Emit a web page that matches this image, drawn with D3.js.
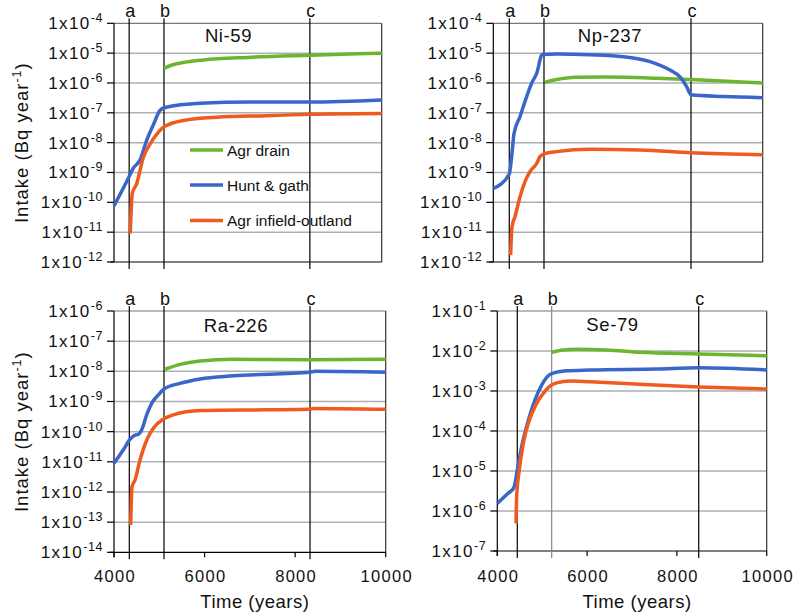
<!DOCTYPE html>
<html><head><meta charset="utf-8">
<script src="https://cdn.jsdelivr.net/npm/d3@7"></script>
<style>
html,body{margin:0;padding:0;background:#fff;}
svg{display:block;font-family:"Liberation Sans",Arial,Helvetica,sans-serif;}
</style></head>
<body><svg id="chart" width="794" height="614"></svg>
<script>
// ---------- DATA ----------
const seriesNames = ["Agr drain", "Hunt & gath", "Agr infield-outland"];
const markerNames = ["a", "b", "c"];
const xTickValues = [4000, 6000, 8000, 10000];

// Ni-59
const ni59Markers = [4340, 5120, 8390];
const ni59Drain = [[5121,3.1e-6],[5300,4.0e-6],[5600,5.0e-6],[6000,5.9e-6],[7000,7.2e-6],[8400,8.5e-6],[10000,1.0e-5]];
const ni59Hunt = [[4000,7.6e-11],[4321,6.4e-10],[4433,1.4e-9],[4583,2.6e-9],[4732,1.2e-8],[4881,3.9e-8],[5031,1.2e-7],[5143,1.5e-7],[5930,2.1e-7],[7050,2.3e-7],[8390,2.3e-7],[10000,2.7e-7]];
const ni59Infield = [[4365,9e-12],[4410,2e-10],[4508,4.2e-10],[4657,3.2e-9],[4807,9.0e-9],[4956,1.9e-8],[5121,3.4e-8],[5553,5.5e-8],[6301,7.1e-8],[7421,8.0e-8],[8393,8.9e-8],[10000,9.5e-8]];

// Np-237
const np237Markers = [4356, 5129, 8403];
const np237Drain = [[5151,1.05e-6],[5411,1.3e-6],[5826,1.55e-6],[6526,1.6e-6],[7639,1.45e-6],[8403,1.3e-6],[10000,1.0e-6]];
const np237Hunt = [[4000,2.9e-10],[4356,8.9e-10],[4409,3.4e-9],[4461,2.0e-8],[4594,7.4e-8],[4743,3.5e-7],[4854,9.8e-7],[4966,2.1e-6],[5090,9.0e-6],[5411,9.3e-6],[6154,8.8e-6],[6896,7.6e-6],[7490,5.2e-6],[7935,2.7e-6],[8158,1.6e-6],[8307,7.5e-7],[8403,4.0e-7],[9122,3.5e-7],[10000,3.2e-7]];
const np237Infield = [[4387,1.7e-12],[4416,1.5e-11],[4483,3.3e-11],[4594,1.5e-10],[4706,4.9e-10],[4817,1.07e-9],[4966,2.0e-9],[5040,3.4e-9],[5129,4.2e-9],[5411,5.0e-9],[6154,6.0e-9],[7267,5.7e-9],[8403,4.6e-9],[10000,3.9e-9]];

// Ra-226
const ra226Markers = [4338, 5104, 8329];
const ra226Drain = [[5126,1.17e-8],[5458,1.7e-8],[5899,2.2e-8],[6635,2.5e-8],[8329,2.4e-8],[10000,2.5e-8]];
const ra226Hunt = [[4000,8.9e-12],[4206,2.5e-11],[4338,5.2e-11],[4464,7.7e-11],[4537,8.1e-11],[4611,1.15e-10],[4721,3.6e-10],[4832,8.7e-10],[4979,1.65e-9],[5104,2.6e-9],[5458,4.0e-9],[5899,5.6e-9],[6635,7.1e-9],[8329,9.3e-9],[8439,1.0e-8],[10000,9.3e-9]];
const ra226Infield = [[4368,8.1e-14],[4398,1.5e-12],[4464,2.5e-12],[4574,1.15e-11],[4721,5.2e-11],[4868,1.3e-10],[5089,2.6e-10],[5310,3.6e-10],[5899,5.0e-10],[7372,5.3e-10],[8329,5.5e-10],[8402,5.9e-10],[10000,5.5e-10]];

// Se-79
const se79Markers = [4445, 5211, 8486];
const se79Drain = [[5211,9.3e-3],[5470,1.06e-2],[5768,1.1e-2],[6436,1.06e-2],[7178,9.3e-3],[8486,8.4e-3],[10000,7.6e-3]];
const se79Hunt = [[4000,1.55e-6],[4245,2.8e-6],[4372,3.9e-6],[4445,1.05e-5],[4543,4.1e-5],[4654,1.3e-4],[4840,6.0e-4],[4988,1.4e-3],[5100,2.2e-3],[5211,2.7e-3],[5544,3.2e-3],[6065,3.35e-3],[7550,3.55e-3],[8486,3.8e-3],[10000,3.35e-3]];
const se79Infield = [[4417,4.9e-7],[4431,2.3e-6],[4490,1.06e-5],[4579,4.9e-5],[4690,1.55e-4],[4876,4.9e-4],[5024,8.7e-4],[5173,1.33e-3],[5322,1.6e-3],[5619,1.78e-3],[6065,1.7e-3],[7178,1.47e-3],[8486,1.26e-3],[10000,1.12e-3]];

// ---------- LAYOUT ----------
const colors = ["#6cb52f", "#3b66c9", "#ef5b1f"];
const panels = [
  {title:"Ni-59", series:[ni59Drain, ni59Hunt, ni59Infield], markers:ni59Markers, yDomain:[1e-12,1e-4],
   l:114, r:381.7, t:23.3, b:262, bottomAxis:false, yLabel:true, legend:true, titleX:228.5, titleY:42, bGray:false},
  {title:"Np-237", series:[np237Drain, np237Hunt, np237Infield], markers:np237Markers, yDomain:[1e-12,1e-4],
   l:493.3, r:762.7, t:23.3, b:262, bottomAxis:false, yLabel:false, legend:false, titleX:610, titleY:42, bGray:false},
  {title:"Ra-226", series:[ra226Drain, ra226Hunt, ra226Infield], markers:ra226Markers, yDomain:[1e-14,1e-6],
   l:114, r:385.7, t:311, b:552.3, bottomAxis:true, yLabel:true, legend:false, titleX:236, titleY:332, bGray:false},
  {title:"Se-79", series:[se79Drain, se79Hunt, se79Infield], markers:se79Markers, yDomain:[1e-7,1e-1],
   l:497.3, r:766.7, t:311, b:551, bottomAxis:true, yLabel:false, legend:false, titleX:612.5, titleY:331, bGray:true}
];

const svg = d3.select("#chart");
const gridColor = "#a9b1b3";

panels.forEach(p => {
  const g = svg.append("g");
  const x = d3.scaleLinear().domain([4000,10000]).range([p.l, p.r]);
  const y = d3.scaleLog().domain(p.yDomain).range([p.b, p.t]);
  const lo = Math.round(Math.log10(p.yDomain[0])), hi = Math.round(Math.log10(p.yDomain[1]));
  const exps = d3.range(lo, hi + 1);

  // horizontal gridlines
  g.selectAll(".grid").data(exps.slice(1, -1)).join("line")
    .attr("x1", p.l).attr("x2", p.r)
    .attr("y1", e => y(Math.pow(10, e))).attr("y2", e => y(Math.pow(10, e)))
    .attr("stroke", gridColor).attr("stroke-width", 1.5);

  // frame top/right
  g.append("line").attr("x1", p.l).attr("x2", p.r).attr("y1", p.t).attr("y2", p.t)
    .attr("stroke", "#777").attr("stroke-width", 1.2);
  g.append("line").attr("x1", p.r).attr("x2", p.r).attr("y1", p.t).attr("y2", p.b)
    .attr("stroke", "#333").attr("stroke-width", 1.2);

  // y ticks and labels
  g.selectAll(".ytick").data(exps).join("line")
    .attr("x1", p.l - 7).attr("x2", p.l)
    .attr("y1", e => y(Math.pow(10, e))).attr("y2", e => y(Math.pow(10, e)))
    .attr("stroke", "#000").attr("stroke-width", 1.2);
  const yl = g.selectAll(".ylab").data(exps).join("text")
    .attr("x", p.l - 11).attr("y", e => y(Math.pow(10, e)) + 6)
    .attr("text-anchor", "end").attr("font-size", 17).attr("letter-spacing", 1.4).attr("fill", "#111");
  yl.append("tspan").text("1x10");
  yl.append("tspan").attr("dy", -7).attr("font-size", 12.5).attr("letter-spacing", 0.6).text(e => String(e));

  // left axis & bottom axis lines
  g.append("line").attr("x1", p.l).attr("x2", p.l).attr("y1", p.t).attr("y2", p.b + (p.bottomAxis ? 5 : 0))
    .attr("stroke", "#000").attr("stroke-width", 1.2);
  g.append("line").attr("x1", p.l - 4).attr("x2", p.r).attr("y1", p.b).attr("y2", p.b)
    .attr("stroke", "#000").attr("stroke-width", 1.2);

  if (p.bottomAxis) {
    g.selectAll(".xtick").data(xTickValues).join("line")
      .attr("x1", d => x(d)).attr("x2", d => x(d)).attr("y1", p.b).attr("y2", p.b + 5)
      .attr("stroke", "#000").attr("stroke-width", 1.2);
    g.selectAll(".xlab").data(xTickValues).join("text")
      .attr("x", d => x(d) + 1).attr("y", 582).attr("text-anchor", "middle")
      .attr("font-size", 16.5).attr("letter-spacing", 1.3).attr("fill", "#111").text(d => d);
    g.append("text").attr("x", (p.l + p.r) / 2 + 5).attr("y", 608).attr("text-anchor", "middle")
      .attr("font-size", 18.5).attr("letter-spacing", 0.5).attr("fill", "#111").text("Time (years)");
  }

  // marker vertical lines
  g.selectAll(".mk").data(p.markers).join("line")
    .attr("x1", d => x(d)).attr("x2", d => x(d)).attr("y1", p.t - 5).attr("y2", p.b + 7)
    .attr("stroke", (d, i) => (p.bGray && i === 1) ? "#888" : "#000").attr("stroke-width", 1.2);
  g.selectAll(".mklab").data(p.markers).join("text")
    .attr("x", d => x(d) + 1).attr("y", p.t - 6.5).attr("text-anchor", "middle")
    .attr("font-size", 18).attr("fill", "#111").text((d, i) => markerNames[i]);

  // title
  g.append("text").attr("x", p.titleX).attr("y", p.titleY).attr("text-anchor", "middle")
    .attr("font-size", 18.5).attr("letter-spacing", 0.6).attr("fill", "#111").text(p.title);

  // series lines
  const line = d3.line().x(d => x(d[0])).y(d => y(d[1])).curve(d3.curveMonotoneX);
  p.series.forEach((s, i) => {
    g.append("path").datum(s).attr("d", line).attr("fill", "none")
      .attr("stroke", colors[i]).attr("stroke-width", 3.5).attr("stroke-linejoin", "round").attr("stroke-linecap", "butt");
  });

  // y label
  if (p.yLabel) {
    const t = g.append("text")
      .attr("transform", `translate(28,${(p.t + p.b) / 2}) rotate(-90)`)
      .attr("text-anchor", "middle").attr("font-size", 18.5).attr("letter-spacing", 1).attr("fill", "#111");
    t.append("tspan").text("Intake  (Bq year");
    t.append("tspan").attr("dy", -7).attr("font-size", 12.5).text("-1");
    t.append("tspan").attr("dy", 7).text(")");
  }

  // legend
  if (p.legend) {
    const ly = [150, 185, 220.5];
    seriesNames.forEach((n, i) => {
      g.append("line").attr("x1", 190).attr("x2", 223).attr("y1", ly[i]).attr("y2", ly[i])
        .attr("stroke", colors[i]).attr("stroke-width", 3.5);
      g.append("text").attr("x", 227).attr("y", ly[i] + 5.5).attr("font-size", 15.5)
        .attr("fill", "#111").text(n);
    });
  }
});
</script></body></html>
